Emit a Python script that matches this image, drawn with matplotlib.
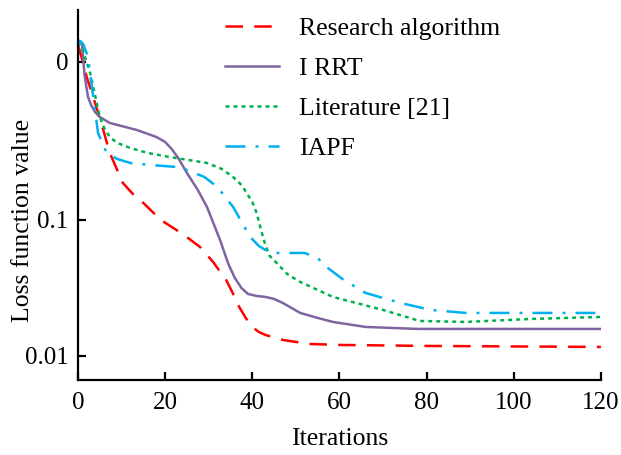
import matplotlib
matplotlib.use("Agg")
import matplotlib.pyplot as plt

# y values are in the chart's own (non-linear) axis units
y_tick_pos = [24, 160, 318]
y_tick_labels = ["0.01", "0.1", "0"]
x_ticks = [0, 20, 40, 60, 80, 100, 120]

research_x = [0, 1, 2, 3.2, 4.4, 5.8, 7.3, 10.3, 12.6, 15, 19, 24, 28, 31, 34, 35.5, 37, 38.5, 40, 41.5, 43, 47, 53, 60, 70, 80, 100, 120]
research_y = [335, 320, 303, 287, 270, 250, 227, 197, 186, 177, 160, 146, 133, 118, 100, 87, 73, 62, 53, 48, 45, 40, 36, 35, 34.5, 34, 33.5, 33]

irrt_x = [0, 0.9, 1.5, 2.3, 3, 3.9, 5, 7.3, 13.5, 18, 20, 21.5, 23, 25, 27.5, 29.6, 32.6, 34.5, 36, 37.5, 39, 41, 43, 45, 47, 51, 55, 58.5, 66, 78, 100, 120]
irrt_y = [340, 337, 305, 283, 275, 268, 263, 257, 250, 243, 238, 231, 222, 207, 190, 173, 140, 116, 102, 92, 86, 84, 83, 81, 77, 67, 62, 58, 53, 51, 51, 51]

lit_x = [0, 1.1, 2.8, 4, 5, 6, 7.3, 9, 12, 16, 21, 29.6, 33, 35.6, 37.5, 38.7, 40, 41, 42, 43, 44, 45.6, 48, 51, 58.5, 70, 78.4, 89, 104, 120]
lit_y = [338, 330, 307, 283, 263, 252, 243, 237, 232, 227, 223, 217, 211, 203, 195, 187, 178, 167, 150, 135, 124, 117, 106, 98, 83, 70, 59, 58, 61, 63]

iapf_x = [0, 0.5, 1.2, 2.3, 3.5, 4.6, 6.6, 9, 12, 16.5, 22.7, 25, 29, 32, 35.6, 39.5, 41.5, 43, 45, 48.6, 52, 55, 57, 61, 66, 74, 81, 89, 100, 120]
iapf_y = [335, 339, 336, 323, 283, 247, 227, 221, 217, 215, 213, 210, 203, 193, 173, 143, 134, 130, 127, 127, 127, 122, 113, 100, 87, 77, 70, 67, 67, 67]

labels = ["Research algorithm", "I RRT", "Literature [21]", "IAPF"]

plt.rcParams['font.family'] = ['Liberation Serif', 'DejaVu Serif']

fig = plt.figure(figsize=(6.21, 4.55), dpi=100)
ax = fig.add_axes([0.1256, 0.165, 0.842, 0.813])

ax.plot(research_x, research_y, color='#FF0000', lw=1.8, dashes=(7, 4.5), label=labels[0])
ax.plot(irrt_x, irrt_y, color='#8064A2', lw=1.8, label=labels[1])
ax.plot(lit_x, lit_y, color='#00B050', lw=1.8, dashes=(1.6, 1.6), label=labels[2])
ax.plot(iapf_x, iapf_y, color='#00B0F0', lw=1.8, dashes=(8, 4, 1.2, 4), label=labels[3])

ax.set_xlim(0, 120)
ax.set_ylim(0, 370)
ax.set_xticks(x_ticks)
ax.set_yticks(y_tick_pos)
ax.set_yticklabels(y_tick_labels)

for s in ['top', 'right']:
    ax.spines[s].set_visible(False)
for s in ['left', 'bottom']:
    ax.spines[s].set_linewidth(1.6)

ax.tick_params(direction='in', length=6, width=1.6, labelsize=18)
ax.tick_params(axis='x', pad=9)
ax.tick_params(axis='y', pad=7)

ax.set_xlabel("Iterations", fontsize=18.5, labelpad=10)
ax.set_ylabel("Loss function value", fontsize=18.5)
ax.yaxis.set_label_coords(-0.084, 0.43)

ax.legend(loc='upper left', bbox_to_anchor=(0.281, 0.981), frameon=False, fontsize=18.5,
          handlelength=2.1, handletextpad=0.8, labelspacing=0.66,
          borderpad=0, borderaxespad=0)

fig.savefig("out.png", dpi=100)
